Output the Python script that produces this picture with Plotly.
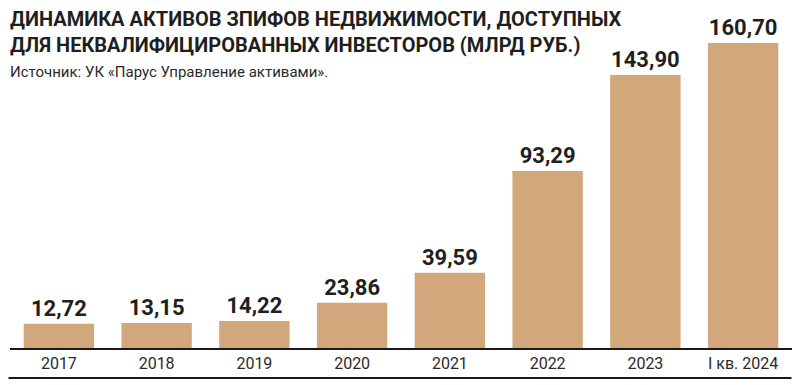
import plotly.graph_objects as go

categories = ["2017", "2018", "2019", "2020", "2021", "2022", "2023", "I кв. 2024"]
values = [12.72, 13.15, 14.22, 23.86, 39.59, 93.29, 143.90, 160.70]
labels = ["12,72", "13,15", "14,22", "23,86", "39,59", "93,29", "143,90", "160,70"]

title_lines = ["ДИНАМИКА АКТИВОВ ЗПИФОВ НЕДВИЖИМОСТИ, ДОСТУПНЫХ",
               "ДЛЯ НЕКВАЛИФИЦИРОВАННЫХ ИНВЕСТОРОВ (МЛРД РУБ.)"]
source = "Источник: УК «Парус Управление активами»."

BAR = "#d2a77b"
INK = "#1f1f1f"

OFF = 8  # page body margin
W, H = 800 - OFF, 385 - OFF
# target pixel geometry in the window
L_PX, R_PX, T_PX, B_PX = 9.5, 792.5, 20, 348
ml, mr, mt, mb = L_PX - OFF, (800 - R_PX), T_PX - OFF, (385 - B_PX)
pw = W - ml - mr
ph = H - mt - mb

def px(x):
    return (x - L_PX) / pw

def py(y):
    return (B_PX - y) / ph

fig = go.Figure(go.Bar(
    x=categories, y=values, text=labels, textposition="outside",
    textfont=dict(family="Roboto", size=22, color=INK, weight="bold"),
    marker=dict(color=BAR, line=dict(width=0)),
    width=0.72, cliponaxis=False, hoverinfo="skip",
))

fig.update_layout(
    width=W, height=H, margin=dict(l=ml, r=mr, t=mt, b=mb, autoexpand=False),
    paper_bgcolor="white", plot_bgcolor="white", showlegend=False,
    xaxis=dict(showline=True, linecolor="#1a1a1a", linewidth=2, ticks="",
               tickfont=dict(family="Roboto", size=16, color="#2a2a2a"),
               range=[-0.5, 7.5], fixedrange=True),
    yaxis=dict(visible=False, range=[0, ph / 1.898], showgrid=False, fixedrange=True),
)

fig.add_shape(type="line", xref="paper", yref="paper",
              x0=px(8), x1=px(792), y0=py(378), y1=py(378),
              line=dict(color="#1a1a1a", width=2))

fig.add_annotation(xref="paper", yref="paper", x=px(7), y=py(5), xanchor="left", yanchor="top",
                   text=title_lines[0] + "<br>" + title_lines[1], showarrow=False, align="left",
                   font=dict(family="Roboto", size=20, color=INK, weight="bold"))
fig.add_annotation(xref="paper", yref="paper", x=px(7), y=py(61), xanchor="left", yanchor="top",
                   text=source, showarrow=False, align="left",
                   font=dict(family="Roboto", size=15, color="#2a2a2a"))

fig.write_html("out.html")
